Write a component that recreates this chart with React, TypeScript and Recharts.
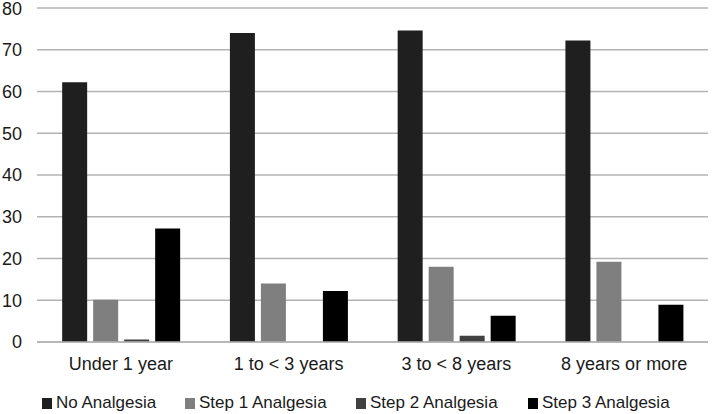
import React from 'react';
import { BarChart, Bar, XAxis, YAxis, CartesianGrid } from 'recharts';

const categories = ['Under 1 year', '1 to < 3 years', '3 to < 8 years', '8 years or more'];
const noAnalgesia = [62.2, 74.0, 74.6, 72.2];
const step1 = [10.1, 14.0, 18.0, 19.2];
const step2 = [0.6, 0, 1.5, 0];
const step3 = [27.2, 12.2, 6.3, 8.9];
const yTicks = [0, 10, 20, 30, 40, 50, 60, 70, 80];

const SERIES = [
    { key: 'no', name: 'No Analgesia', color: '#1f1f1f' },
    { key: 's1', name: 'Step 1 Analgesia', color: '#7f7f7f' },
    { key: 's2', name: 'Step 2 Analgesia', color: '#404040' },
    { key: 's3', name: 'Step 3 Analgesia', color: '#000000' },
];

// legend item left edges (layout only)
const LEGEND_X = [42, 185, 356, 528];

const data = categories.map((name, i) => ({
    name,
    no: noAnalgesia[i],
    s1: step1[i],
    s2: step2[i],
    s3: step3[i],
}));

const FONT = '"Liberation Sans", Arial, sans-serif';

const YTick = (props: any) => {
    const { y, payload } = props;
    return (
        <text
            x={22}
            y={y}
            dy="0.355em"
            textAnchor="end"
            fill="#1a1a1a"
            fontSize={18}
            fontFamily={FONT}
        >
            {payload.value}
        </text>
    );
};

const ChartLegend = () => (
    <div style={{ position: 'absolute', left: 0, top: 394, width: 712, height: 20 }}>
        {SERIES.map((s, i) => (
            <div
                key={s.key}
                style={{
                    position: 'absolute',
                    left: LEGEND_X[i],
                    top: 0,
                    display: 'flex',
                    alignItems: 'center',
                    fontFamily: FONT,
                    fontSize: 17,
                    lineHeight: '18px',
                    color: '#1a1a1a',
                    whiteSpace: 'nowrap',
                }}
            >
                <span
                    style={{
                        display: 'inline-block',
                        width: 10,
                        height: 11,
                        background: s.color,
                        marginRight: 4,
                    }}
                />
                <span>{s.name}</span>
            </div>
        ))}
    </div>
);

export default function App() {
    return (
        <div style={{ position: 'absolute', left: 0, top: 0, width: 712, height: 414, background: '#fff' }}>
            <BarChart
                width={712}
                height={414}
                data={data}
                margin={{ top: 8, right: 4, left: 0, bottom: 0 }}
                barCategoryGap="15%"
                barGap={6}
            >
                <CartesianGrid vertical={false} stroke="#b3b3b3" strokeWidth={1.5} />
                <XAxis
                    dataKey="name"
                    tickLine={false}
                    axisLine={{ stroke: '#b3b3b3', strokeWidth: 1.5 }}
                    tickSize={0}
                    tickMargin={15}
                    height={72}
                    interval={0}
                    tick={{ fill: '#1a1a1a', fontSize: 18, fontFamily: FONT }}
                />
                <YAxis
                    domain={[0, 80]}
                    ticks={yTicks}
                    width={37}
                    tickLine={false}
                    axisLine={false}
                    tick={<YTick />}
                />
                {SERIES.map((s) => (
                    <Bar
                        key={s.key}
                        dataKey={s.key}
                        name={s.name}
                        fill={s.color}
                        isAnimationActive={false}
                    />
                ))}
            </BarChart>
            <ChartLegend />
        </div>
    );
}
